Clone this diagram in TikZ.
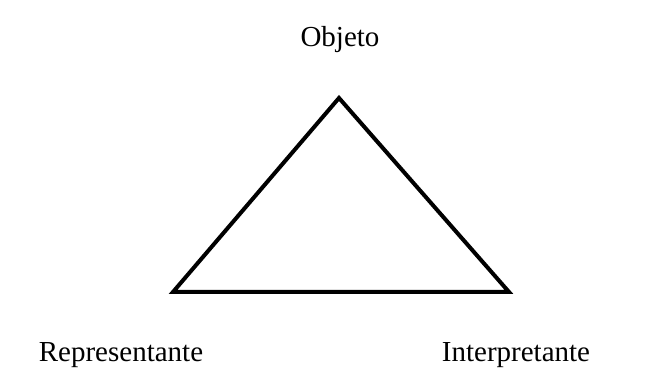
\documentclass[tikz,border=0pt]{standalone}
\usepackage{fontspec}
\setmainfont{Liberation Serif}
\usetikzlibrary{positioning}

\begin{document}
\begin{tikzpicture}[x=0.5pt, y=0.5pt]
    % Canvas (same proportions as the reference)
    \useasboundingbox (0,0) rectangle (645,391);

    \tikzset{vertexlabel/.style={font=\fontsize{14.5}{17}\selectfont, anchor=base}}

    % Triangle corners
    \coordinate (apex) at (339, 293);
    \coordinate (left) at (173, 99);
    \coordinate (right) at (509, 99);
    \draw[line width=2pt, line join=miter] (apex) -- (right) -- (left) -- cycle;

    % Labels
    \node[vertexlabel] (objeto) at (340, 344) {Objeto};
    \node[vertexlabel] (representante) at (121, 29) {Representante};
    \node[vertexlabel] (interpretante) at (516, 29) {Interpretante};
\end{tikzpicture}
\end{document}
